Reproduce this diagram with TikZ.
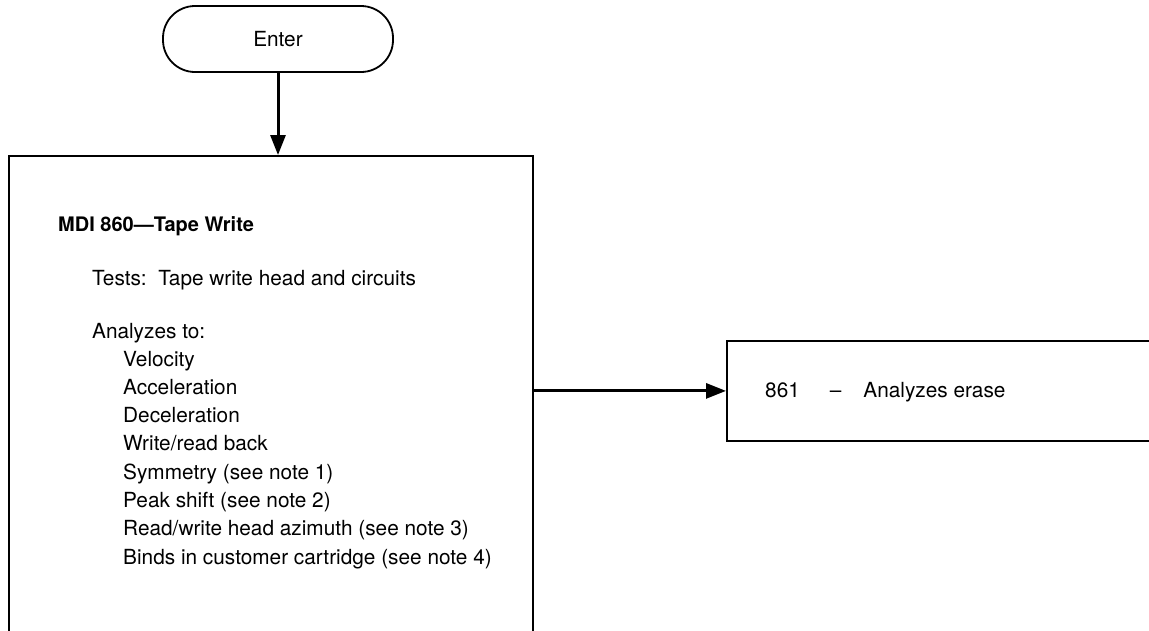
\documentclass[tikz,border=0pt]{standalone}
\usepackage{fontspec}
\setmainfont{TeX Gyre Heros}
\usetikzlibrary{arrows.meta}
\begin{document}
\begin{tikzpicture}[x=1pt,y=-1pt,
  box/.style={draw,line width=1.8pt,inner sep=0pt,anchor=north west},
  flow/.style={line width=3pt,-{Triangle[length=20pt,width=15pt]}},
  txt/.style={anchor=base west,inner sep=0pt,font=\fontsize{20.8}{24}\selectfont}]
\useasboundingbox (0,0) rectangle (1149,630);
\clip (0,0) rectangle (1149,630);
\node[draw,line width=1.8pt,minimum width=230pt,minimum height=66pt,rounded corners=32pt,
  font=\fontsize{20.8}{24}\selectfont] (enter) at (278,39) {Enter};
\node[box,minimum width=524pt,minimum height=520pt] (main) at (8,155) {};
\node[box,minimum width=520pt,minimum height=100pt] (next) at (726,340) {};
\draw[flow] (enter.south) -- (enter.south |- main.north);
\draw[flow] (next.west -| main.east) -- (next.west);
\node[txt,font=\fontsize{20}{24}\selectfont\bfseries] (title) at (58,231) {MDI 860—Tape Write};
\node[txt] (tests) at (92,285) {Tests:\ \ Tape write head and circuits};
\node[txt] (an) at (92,338) {Analyzes to:};
\foreach \t [count=\i from 0] in {Velocity,Acceleration,Deceleration,Write/read back,
  Symmetry (see note 1),Peak shift (see note 2),Read/write head azimuth (see note 3),
  Binds in customer cartridge (see note 4)}
  \node[txt] (it\i) at (123,366+28.3*\i) {\t};
\node[txt] (n861) at (765,397) {861\hspace{30pt}–\hspace{22pt}Analyzes erase};
\end{tikzpicture}
\end{document}
